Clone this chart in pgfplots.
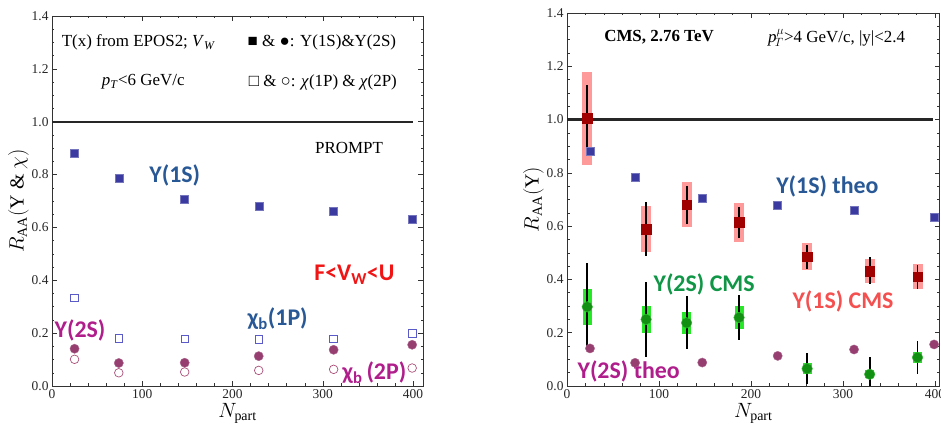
\documentclass[border=0pt]{standalone}
\usepackage{pgfplots}
\pgfplotsset{compat=1.18}
\usepackage{fontspec}
\setmainfont{Liberation Serif}
\newfontfamily\cali{Carlito}
\definecolor{thblue}{RGB}{58,58,160}
\definecolor{thpurp}{RGB}{150,62,112}
\definecolor{opblue}{RGB}{90,90,200}
\definecolor{oppurp}{RGB}{170,80,120}
\definecolor{lblblue}{RGB}{40,88,150}
\definecolor{lblmag}{RGB}{176,30,140}
\definecolor{lblred}{RGB}{240,20,20}
\definecolor{lblgreen}{RGB}{16,150,70}
\definecolor{lblsalmon}{RGB}{245,80,80}
\definecolor{cmsred}{RGB}{160,0,0}
\definecolor{cmsbox}{RGB}{255,120,120}
\definecolor{cmsgreen}{RGB}{20,170,20}
\definecolor{cmsgbox}{RGB}{40,230,40}
\pgfplotsset{
  mystyle/.style={
    scale only axis, anchor=south west,
    xmin=0, ymin=0, ymax=1.4,
    xtick={0,100,200,300,400}, minor x tick num=4,
    ytick={0,0.2,0.4,0.6,0.8,1.0,1.2,1.4}, minor y tick num=3,
    tick align=inside, tick pos=both,
    major tick length=5bp, minor tick length=2.5bp,
    axis line style={black!80, line width=0.6bp},
    tick style={black!80, line width=0.5bp},
    yticklabel style={/pgf/number format/.cd, fixed, fixed zerofill, precision=1, assume math mode=true},
    xticklabel style={/pgf/number format/assume math mode=true},
    tick label style={font=\fontsize{13.5}{14}\selectfont, black!85},
    label style={font=\fontsize{20}{22}\selectfont},
    xlabel={$N_{\mathrm{part}}$},
    xlabel style={yshift=2bp},
  },
}
\tikzset{
  serifnote/.style={font=\fontsize{17}{18}\selectfont},
  sansnote/.style={font=\cali\bfseries\fontsize{24}{25}\selectfont},
}
\pgfplotstableread{
x y
25 0.880
74 0.785
147 0.705
229 0.680
312 0.660
399 0.632
}\upsA
\pgfplotstableread{
x y
25 0.333
74 0.180
147 0.178
229 0.176
312 0.178
399 0.200
}\chiA
\pgfplotstableread{
x y
25 0.141
74 0.087
147 0.088
229 0.113
312 0.137
399 0.156
}\upsB
\pgfplotstableread{
x y
25 0.101
74 0.050
147 0.053
229 0.059
312 0.063
399 0.068
}\chiB
\pgfplotstableread{
x y stat syst
22 1.005 0.125 0.175
86 0.589 0.100 0.085
130 0.680 0.072 0.085
187 0.614 0.058 0.072
261 0.485 0.044 0.050
329 0.432 0.051 0.046
381 0.410 0.045 0.047
}\cmsA
\pgfplotstableread{
x y stat syst
22 0.297 0.163 0.068
86 0.250 0.140 0.050
130 0.237 0.100 0.041
187 0.257 0.083 0.042
261 0.065 0.057 0.020
329 0.044 0.063 0.015
381 0.107 0.063 0.020
}\cmsB
\begin{document}
\begin{tikzpicture}
\useasboundingbox (0,0) rectangle (941bp,437bp);
% ---------------- left panel
\begin{axis}[mystyle, at={(52bp,51bp)}, width=371bp, height=370bp, xmax=411,
  ylabel={$R_{\mathrm{AA}}(\mathrm{Y}\ \&\ \chi)$}, ylabel style={yshift=-4bp}]
\addplot[black!85, line width=2.2bp, forget plot] coordinates {(0,1) (400,1)};
\addplot[only marks, mark=square, mark size=3.8bp, mark options={draw=opblue, line width=0.7bp}] table {\chiA};
\addplot[only marks, mark=o, mark size=4.3bp, mark options={draw=oppurp, line width=0.7bp}] table {\chiB};
\addplot[only marks, mark=square*, mark size=4bp, mark options={fill=thblue, draw=thblue!70!white, line width=0.4bp}] table {\upsA};
\addplot[only marks, mark=*, mark size=4.6bp, mark options={fill=thpurp, draw=thpurp!80!white, line width=0.4bp}] table {\upsB};
\node[serifnote] at (axis cs:96,1.30) {T(x) from EPOS2; \textit{V}\textsubscript{\textit{W}}};
\node[serifnote] at (axis cs:299,1.30) {■ \& ●: Y(1S)\&Y(2S)};
\node[serifnote] at (axis cs:101,1.15) {\textit{p}\textsubscript{\textit{T}}<6 GeV/c};
\node[serifnote] at (axis cs:300,1.15) {□ \& ○: \textit{χ}(1P) \& \textit{χ}(2P)};
\node[serifnote] at (axis cs:329,0.90) {PROMPT};
\node[sansnote, text=lblblue] at (axis cs:136,0.795) {Y(1S)};
\node[sansnote, text=lblred] at (axis cs:335,0.42) {F<V\textsubscript{W}<U};
\node[sansnote, text=lblmag] at (axis cs:31,0.212) {Y(2S)};
\node[sansnote, text=lblblue] at (axis cs:250,0.255) {χ\textsubscript{b}(1P)};
\node[sansnote, text=lblmag] at (axis cs:357,0.05) {χ\textsubscript{b}\,(2P)};
\end{axis}
% ---------------- right panel
\begin{axis}[mystyle, at={(567bp,51bp)}, width=372.6bp, height=373bp, xmax=405,
  ylabel={$R_{\mathrm{AA}}(\mathrm{Y})$}, ylabel style={yshift=-4bp}]
\addplot[black!85, line width=2.2bp, forget plot] coordinates {(0,1) (398,1)};
% Y(1S) CMS
\addplot[only marks, mark size=0pt, error bars/.cd, y dir=both, y explicit, error mark=none,
  error bar style={line width=10bp, draw=cmsbox, opacity=0.75}] table[y error=syst] {\cmsA};
\addplot[only marks, mark=square*, mark size=4.8bp, mark options={fill=cmsred, draw=cmsred}] table {\cmsA};
\addplot[only marks, mark size=0pt, error bars/.cd, y dir=both, y explicit, error mark=none,
  error bar style={line width=1.8bp, draw=black}] table[y error=stat] {\cmsA};
% Y(2S) CMS
\addplot[only marks, mark size=0pt, error bars/.cd, y dir=both, y explicit, error mark=none,
  error bar style={line width=9bp, draw=cmsgbox}] table[y error=syst] {\cmsB};
\addplot[only marks, mark=*, mark size=5.3bp, mark options={fill=cmsgreen!85!black, draw=cmsgreen!80!white}] table {\cmsB};
\addplot[only marks, mark size=0pt, error bars/.cd, y dir=both, y explicit, error mark=none,
  error bar style={line width=1.8bp, draw=black}] table[y error=stat] {\cmsB};
% theory
\addplot[only marks, mark=square*, mark size=4bp, mark options={fill=thblue, draw=thblue!70!white, line width=0.4bp}] table {\upsA};
\addplot[only marks, mark=*, mark size=4.6bp, mark options={fill=thpurp, draw=thpurp!80!white, line width=0.4bp}] table {\upsB};
\node[font=\bfseries\fontsize{17}{18}\selectfont] at (axis cs:100,1.308) {CMS, 2.76 TeV};
\node[serifnote] at (axis cs:293,1.308) {\textit{p}$^{\mu}_{\!T}$>4 GeV/c, |y|<2.4};
\node[sansnote, text=lblblue] at (axis cs:283,0.748) {Y(1S) theo};
\node[sansnote, text=lblgreen] at (axis cs:149,0.38) {Y(2S) CMS};
\node[sansnote, text=lblsalmon] at (axis cs:300,0.316) {Y(1S) CMS};
\node[sansnote, text=lblmag] at (axis cs:67,0.053) {Y(2S) theo};
\end{axis}
\end{tikzpicture}
\end{document}
